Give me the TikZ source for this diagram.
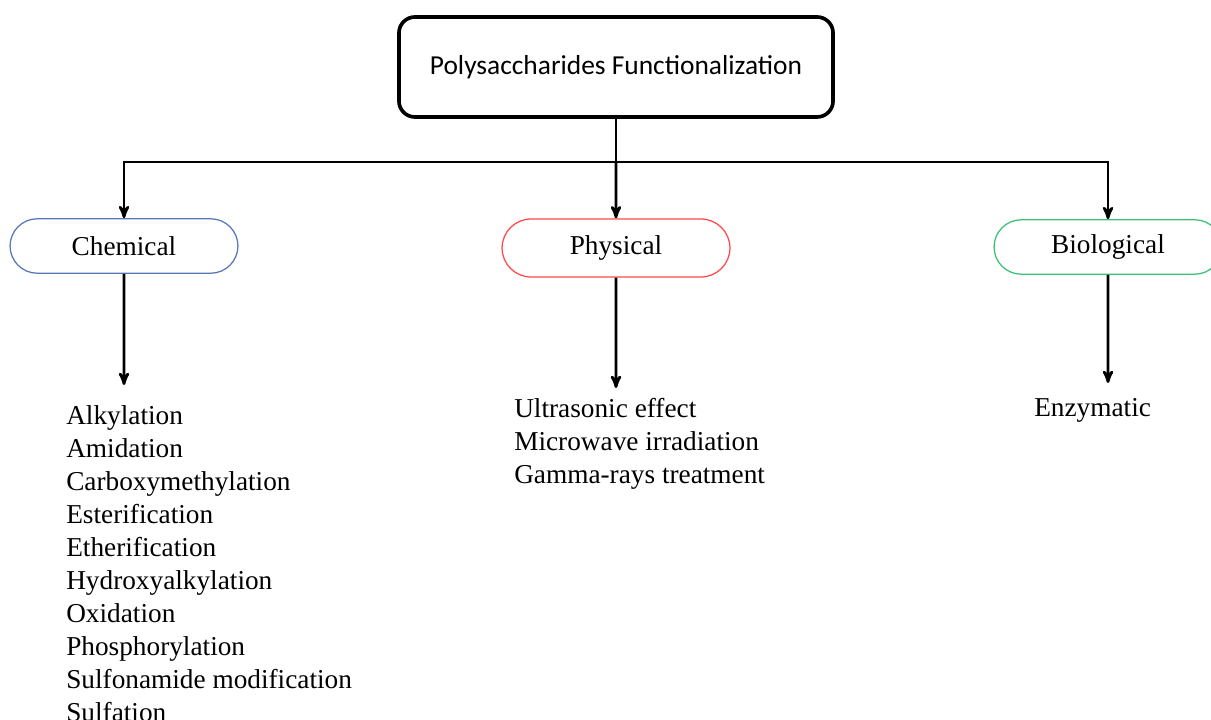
\documentclass[tikz,border=0pt]{standalone}
\usepackage{fontspec}
\setmainfont{Liberation Serif}
\newfontfamily\headfont{Carlito}
\usepackage{xcolor}
\usepackage{tikz}
\usetikzlibrary{arrows,positioning,shapes.misc}
\definecolor{chemblue}{HTML}{5878B8}
\definecolor{physred}{HTML}{FF4A4A}
\definecolor{biogreen}{HTML}{3CC277}
\tikzset{
  root/.style={draw,line width=2.6pt,rounded corners=0.4cm,
    minimum width=10.85cm,minimum height=2.5cm,
    font=\headfont\fontsize{19.5}{23}\selectfont},
  branch/.style={rounded rectangle,draw,line width=0.9pt,
    minimum width=5.93cm,minimum height=1.36cm,
    font=\fontsize{19.4}{23.5}\selectfont},
  methods/.style={anchor=north west,inner sep=0pt,align=left,
    font=\fontsize{19.4}{23.5}\selectfont},
  link/.style={line width=1.9pt},
  tree/.style={
    ->,>=stealth',x=0.025cm,y=-0.025cm
  }
}

\begin{document}
\begin{tikzpicture}[tree]
      \useasboundingbox (0,0) rectangle (1211,720);
      \node[root] (func) at (616,67) {Polysaccharides Functionalization};
      \node[branch,draw=chemblue] (chem) at (124,246) {Chemical};
      \node[branch,draw=physred,minimum height=1.45cm] (phys) at (616,248) {Physical};
      \node[branch,draw=biogreen] (bio) at (1108,247) {Biological};
      \coordinate (split) at (616,162);
      \coordinate (chemtip) at (124,385);
      \coordinate (phystip) at (616,388);
      \coordinate (biotip) at (1108,383);
      \node[methods] (chemlist) at (66,405) {Alkylation\\Amidation\\Carboxymethylation\\Esterification\\Etherification\\Hydroxyalkylation\\Oxidation\\Phosphorylation\\Sulfonamide modification\\Sulfation};
      \node[methods] (physlist) at (514,398) {Ultrasonic effect\\Microwave irradiation\\Gamma-rays treatment};
      \node[methods] (biolist) at (1034,398) {Enzymatic};
      % connectors
      \draw[link,-] (func) -- (split);
      \draw[link] (split) -| (chem);
      \draw[link] (split) -- (phys);
      \draw[link] (split) -| (bio);
      \draw[link] (chem) -- (chemtip);
      \draw[link] (phys) -- (phystip);
      \draw[link] (bio) -- (biotip);
    \end{tikzpicture}
\end{document}
